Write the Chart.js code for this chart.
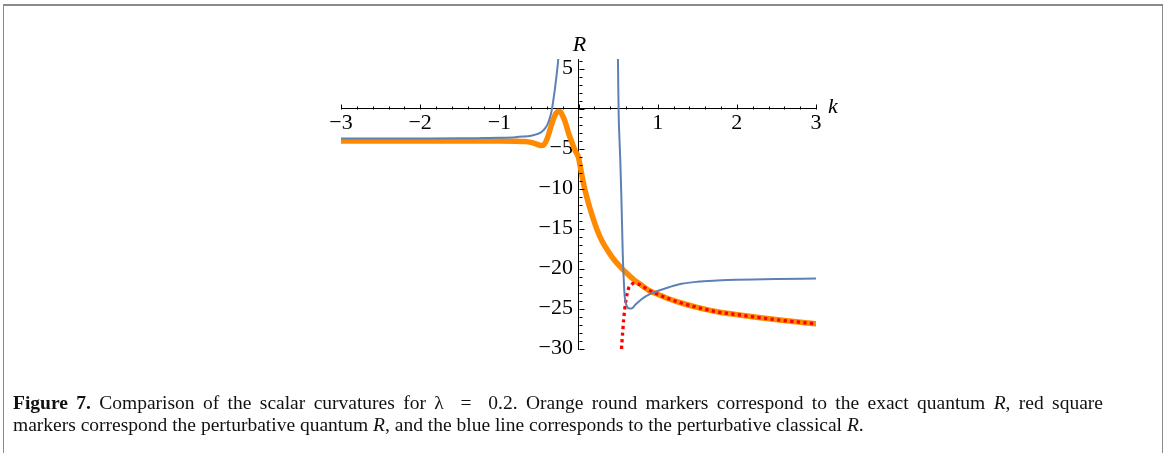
<!DOCTYPE html>
<html>
<head>
<meta charset="utf-8">
<script src="https://cdn.jsdelivr.net/npm/chart.js@4.4.1/dist/chart.umd.min.js"></script>
<style>
  html, body { margin: 0; padding: 0; background: #fff; }
  body { width: 1168px; height: 453px; position: relative; overflow: hidden; }
  #frame { position: absolute; left: 3px; top: 4px; width: 1158px; height: 480px;
           border: 1px solid #8a8a8a; border-top-width: 2px; }
  #plot { position: absolute; left: 0; top: 0; }
  .caption { position: absolute; left: 13px; font-family: "Liberation Serif", serif;
             font-size: 19.5px; line-height: 22px; color: #111; white-space: nowrap; }
  .caption.full { width: 1090px; white-space: normal; text-align: justify; text-align-last: justify; }
</style>
</head>
<body>
<div id="frame"></div>
<canvas id="plot" width="1168" height="453"></canvas>
<div class="caption full" style="top:392px"><b>Figure 7.</b> Comparison of the scalar curvatures for λ &nbsp;=&nbsp; 0.2. Orange round markers correspond to the exact quantum <i>R</i>, red square</div>
<div class="caption" style="top:414px">markers correspond the perturbative quantum <i>R</i>, and the blue line corresponds to the perturbative classical <i>R</i>.</div>
<script>
// axis ticks (origin left unlabelled)
const kTicks = [-3, -2, -1, 1, 2, 3];
const rTicks = [5, -5, -10, -15, -20, -25, -30];

// exact quantum R (orange)
const exactK = [-3, -2, -1, -0.8, -0.68, -0.6, -0.54, -0.5, -0.47, -0.44, -0.41, -0.38, -0.35,
  -0.32, -0.29, -0.26, -0.23, -0.2, -0.16, -0.125, -0.08, -0.04, 0, 0.02, 0.044, 0.08, 0.128,
  0.18, 0.233, 0.3, 0.36, 0.45, 0.53, 0.6, 0.7, 0.8, 0.9, 1.0, 1.12, 1.3, 1.5, 1.75, 2.0, 2.3, 2.6, 3.0];
const exactR = [-4.05, -4.05, -4.05, -4.07, -4.12, -4.22, -4.4, -4.55, -4.62, -4.55, -4.1, -3.3, -2.3,
  -1.4, -0.7, -0.35, -0.4, -0.9, -1.9, -3.1, -4.3, -5.3, -6.1, -7.1, -8.4, -10.1, -11.9,
  -13.6, -15.1, -16.6, -17.6, -18.9, -19.8, -20.5, -21.4, -22.1, -22.8, -23.2, -23.7, -24.3, -24.85, -25.4, -25.75, -26.15, -26.5, -26.9];

// perturbative quantum R (red)
const pertK = [0.543, 0.55, 0.56, 0.57, 0.585, 0.6, 0.615, 0.635, 0.66, 0.7, 0.75, 0.8, 0.9, 1.0,
  1.12, 1.3, 1.5, 1.75, 2.0, 2.3, 2.6, 3.0];
const pertR = [-30.05, -29, -27.7, -26.4, -25, -23.9, -23.1, -22.4, -22.05, -21.85, -21.9, -22.15, -22.75, -23.2,
  -23.7, -24.3, -24.85, -25.4, -25.75, -26.15, -26.5, -26.9];

// perturbative classical R (blue), two branches around the poles
const classLeftK = [-3, -2.5, -2, -1.5, -1.2, -1, -0.8, -0.7, -0.6, -0.55, -0.5, -0.46, -0.42, -0.39,
  -0.36, -0.34, -0.32, -0.3, -0.28, -0.26, -0.245];
const classLeftR = [-3.75, -3.75, -3.74, -3.72, -3.68, -3.65, -3.58, -3.5, -3.38, -3.27, -3.1, -2.85, -2.45, -1.95,
  -1.1, -0.3, 0.9, 2.3, 3.9, 5.7, 7.5];
const classRightK = [0.497, 0.502, 0.508, 0.518, 0.528, 0.54, 0.55, 0.56, 0.57, 0.582, 0.6, 0.63, 0.667,
  0.72, 0.8, 0.9, 1.0, 1.15, 1.3, 1.5, 1.75, 2.0, 2.5, 3.0];
const classRightR = [7.5, 3, -1, -4, -6.5, -10.5, -14.5, -18.5, -21, -23.3, -24.4, -24.95, -25.0,
  -24.5, -23.8, -23.2, -22.8, -22.3, -21.9, -21.65, -21.5, -21.4, -21.3, -21.25];

const toPoints = (ks, rs) => ks.map((k, i) => ({ x: k, y: rs[i] }));
const classical = toPoints(classLeftK, classLeftR)
  .concat([{ x: 0, y: null }])
  .concat(toPoints(classRightK, classRightR));

const serif = '"Liberation Serif", "Times New Roman", serif';
const minus = v => String(v).replace('-', '\u2212');

// Mathematica-style tick marks plus the k and R axis names
const axisMarks = {
  id: 'axisMarks',
  afterDraw(chart) {
    const { ctx, scales: { x, y } } = chart;
    const xAxisY = Math.round(y.getPixelForValue(0)) + 0.5;
    const yAxisX = Math.round(x.getPixelForValue(0)) + 0.5;
    ctx.save();
    ctx.strokeStyle = '#000';
    ctx.lineWidth = 1;
    ctx.beginPath();
    for (let i = 0; i <= 30; i++) {
      const px = Math.round(x.getPixelForValue(-3 + i * 0.2)) + 0.5;
      const len = i % 5 === 0 ? 5 : 3;
      ctx.moveTo(px, xAxisY);
      ctx.lineTo(px, xAxisY - len);
    }
    for (let v = -30; v <= 6; v++) {
      const py = Math.round(y.getPixelForValue(v)) + 0.5;
      const len = v % 5 === 0 ? 5 : 3;
      ctx.moveTo(yAxisX, py);
      ctx.lineTo(yAxisX + len, py);
    }
    ctx.stroke();

    ctx.fillStyle = '#000';
    ctx.font = 'italic 22px ' + serif;
    ctx.textAlign = 'left';
    ctx.textBaseline = 'alphabetic';
    ctx.fillText('k', x.right + 12, xAxisY + 3);
    ctx.textAlign = 'center';
    ctx.fillText('R', yAxisX, y.top - 8);
    ctx.restore();
  }
};

new Chart(document.getElementById('plot'), {
  type: 'line',
  data: {
    datasets: [
      {
        data: classical,
        borderColor: '#5e81b5',
        borderWidth: 2,
        pointRadius: 0,
        cubicInterpolationMode: 'monotone',
        spanGaps: false,
        order: 0
      },
      {
        data: toPoints(pertK, pertR),
        borderColor: '#ff0000',
        borderWidth: 3.3,
        borderDash: [3.3, 3.3],
        borderCapStyle: 'butt',
        pointRadius: 0,
        cubicInterpolationMode: 'monotone',
        order: 1
      },
      {
        data: toPoints(exactK, exactR),
        borderColor: '#ff8a00',
        borderWidth: 5.5,
        borderCapStyle: 'round',
        borderJoinStyle: 'round',
        pointRadius: 0,
        cubicInterpolationMode: 'monotone',
        order: 2
      }
    ]
  },
  options: {
    responsive: false,
    animation: false,
    devicePixelRatio: 1,
    events: [],
    layout: { padding: { left: 341, top: 59, right: 352, bottom: 104 } },
    plugins: { legend: { display: false }, tooltip: { enabled: false } },
    scales: {
      x: {
        type: 'linear',
        min: -3,
        max: 3,
        position: { y: 0 },
        afterFit: s => { s.height = 0; },
        afterBuildTicks: s => { s.ticks = kTicks.map(v => ({ value: v })); },
        grid: { display: false },
        border: { display: true, color: '#000', width: 1 },
        ticks: {
          autoSkip: false, maxRotation: 0, minRotation: 0, padding: -7,
          color: '#000', font: { family: serif, size: 22 },
          callback: minus
        }
      },
      y: {
        type: 'linear',
        min: -30.05,
        max: 6.2,
        position: { x: 0 },
        afterFit: s => { s.width = 0; },
        afterBuildTicks: s => { s.ticks = rTicks.map(v => ({ value: v })); },
        grid: { display: false },
        border: { display: true, color: '#000', width: 1 },
        ticks: {
          autoSkip: false,
          color: '#000', font: { family: serif, size: 22 },
          // trailing space keeps the labels clear of the axis line
          callback: v => minus(v) + ' '
        }
      }
    }
  },
  plugins: [axisMarks]
});
</script>
</body>
</html>
